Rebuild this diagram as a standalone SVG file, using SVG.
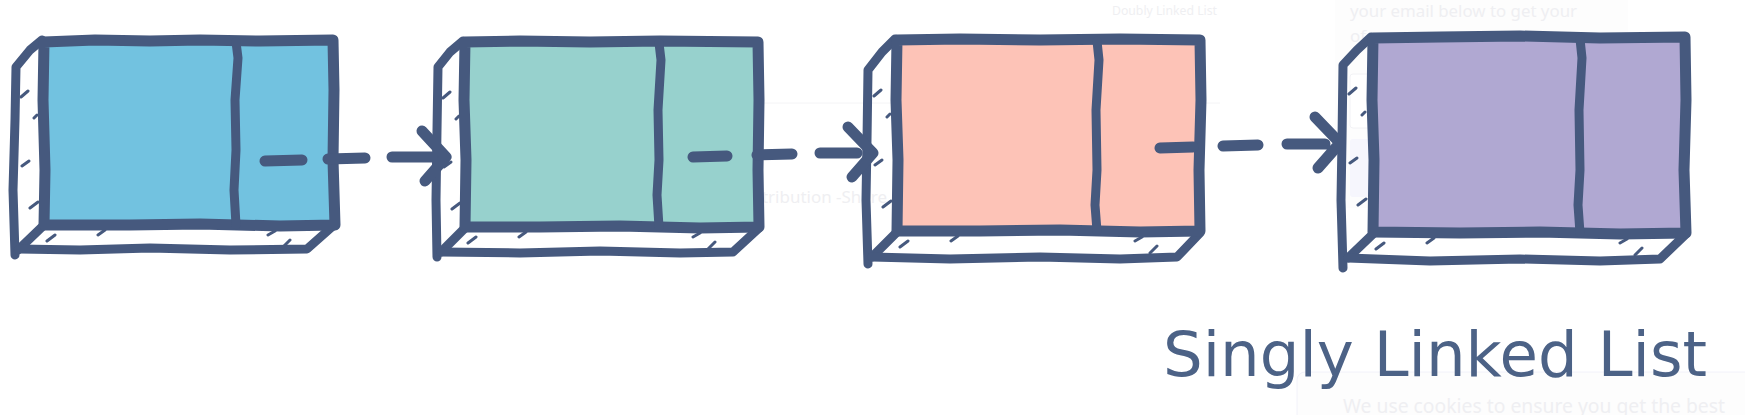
<svg xmlns="http://www.w3.org/2000/svg" width="1745" height="415" viewBox="0 0 1745 415">
<style>
.ol{fill:none;stroke:#46597E;stroke-linecap:round;stroke-linejoin:round}
.fr{stroke-width:11}
.dv{stroke-width:9}
.sd{stroke-width:9}
.ht{stroke-width:3}
.ar{fill:none;stroke:#46597E;stroke-width:11;stroke-linecap:round;stroke-linejoin:round}
.ghost{font-family:"Noto Sans","DejaVu Sans",sans-serif;fill:#EFEFF2}
.title{font-family:"DejaVu Sans","Noto Sans",sans-serif;font-size:63px;fill:#4C6286}
</style>
<rect width="1745" height="415" fill="#FFFFFF"/>
<g id="background-ghost">
<rect x="1335" y="-2" width="293" height="210" fill="#FDFDFD"/>
<rect x="1350" y="74" width="270" height="54" rx="3" fill="#FFFFFF" stroke="#F2F2F5" stroke-width="1"/>
<rect x="1350" y="139" width="270" height="58" rx="3" fill="#F6F6FD"/>
<line x1="763" y1="103" x2="1220" y2="103" stroke="#F4F4F6" stroke-width="1"/>
<rect x="1297" y="372" width="470" height="60" rx="8" fill="#FDFDFD" stroke="#F2F2FA" stroke-width="1"/>
<text class="ghost" x="1112" y="15" font-size="13" textLength="105" lengthAdjust="spacingAndGlyphs">Doubly Linked List</text>
<text class="ghost" x="1350" y="17" font-size="17" textLength="227" lengthAdjust="spacingAndGlyphs">your email below to get your</text>
<text class="ghost" x="1350" y="42" font-size="17">of</text>
<text class="ghost" x="762" y="203" font-size="16" textLength="125" lengthAdjust="spacingAndGlyphs">tribution -Share</text>
<text class="ghost" x="1343" y="413" font-size="20" textLength="382" lengthAdjust="spacingAndGlyphs">We use cookies to ensure you get the best</text>
</g>
<g id="node1">
<path d="M44,41 L333,40 L334,225 L44,226 Z" fill="#72C2E0"/>
<path class="ol sd" d="M42,40 L30,50 L16,67 L15,120 L13,190 L15,255"/>
<path class="ol sd" d="M44,225 L18,250"/>
<path class="ol sd" d="M19,249 L80,250 L150,248 L230,250 L307,249 L333,226"/>
<path class="ol ht" d="M21,97 L28,91 M34,118 L37,115 M22,166 L29,161 M30,208 L38,202 M47,241 L55,235 M98,235 L105,230 M268,235 L275,231 M283,247 L290,240"/>
<path class="ol fr" d="M44,42 L95,40 L150,41 L200,40 L260,41 L333,40 L334,90 L333,160 L335,225 L280,226 L200,224 L130,225 L44,225 L45,170 L43,100 Z"/>
<path class="ol dv" d="M236,42 L238,58 L235,100 L236,150 L234,190 L236,225"/>
</g>
<g id="node2">
<path d="M465,42 L758,42 L759,227 L465,228 Z" fill="#97D1CD"/>
<path class="ol sd" d="M463,41 L450,52 L438,67 L437,130 L436,200 L437,257"/>
<path class="ol sd" d="M465,228 L441,252"/>
<path class="ol sd" d="M441,252 L520,253 L600,251 L680,253 L733,252 L758,229"/>
<path class="ol ht" d="M443,98 L450,92 M456,119 L459,116 M444,167 L451,162 M452,209 L460,203 M468,243 L476,237 M519,237 L526,232 M693,237 L700,233 M708,249 L715,242"/>
<path class="ol fr" d="M465,42 L520,41 L590,42 L660,41 L758,42 L759,100 L758,170 L759,227 L700,228 L620,226 L540,227 L465,227 L466,160 L464,100 Z"/>
<path class="ol dv" d="M659,43 L661,60 L658,110 L659,160 L657,195 L659,227"/>
</g>
<g id="node3">
<path d="M897,40 L1200,40 L1201,231 L897,231 Z" fill="#FDC3B7"/>
<path class="ol sd" d="M895,39 L882,52 L868,70 L867,140 L866,200 L868,264"/>
<path class="ol sd" d="M897,232 L872,257"/>
<path class="ol sd" d="M872,257 L950,259 L1040,257 L1120,259 L1177,257 L1200,233"/>
<path class="ol ht" d="M874,96 L881,90 M887,117 L890,114 M875,165 L882,160 M883,207 L891,201 M900,247 L908,241 M951,241 L958,236 M1135,241 L1142,237 M1150,253 L1157,246"/>
<path class="ol fr" d="M897,40 L960,39 L1040,40 L1120,39 L1200,40 L1201,100 L1199,170 L1200,231 L1140,232 L1060,230 L980,231 L897,231 L898,160 L896,100 Z"/>
<path class="ol dv" d="M1097,41 L1099,60 L1096,110 L1097,170 L1095,205 L1097,231"/>
</g>
<g id="node4">
<path d="M1373,38 L1685,38 L1686,233 L1373,233 Z" fill="#B0A8D2"/>
<path class="ol sd" d="M1371,37 L1357,50 L1343,65 L1342,140 L1341,200 L1343,268"/>
<path class="ol sd" d="M1373,234 L1348,258"/>
<path class="ol sd" d="M1348,258 L1430,261 L1520,259 L1600,261 L1660,259 L1685,235"/>
<path class="ol ht" d="M1349,94 L1356,88 M1362,115 L1365,112 M1350,163 L1357,158 M1358,205 L1366,199 M1376,249 L1384,243 M1427,243 L1434,238 M1620,243 L1627,239 M1635,255 L1642,248"/>
<path class="ol fr" d="M1373,38 L1440,37 L1520,36 L1600,38 L1685,37 L1686,100 L1684,170 L1686,233 L1620,234 L1540,232 L1460,233 L1373,232 L1374,160 L1372,100 Z"/>
<path class="ol dv" d="M1580,39 L1582,58 L1579,110 L1580,170 L1578,205 L1580,233"/>
</g>
<g id="connectors">
<path class="ar" d="M265,161 L302,160 M328,159 L365,158 M392,157 L432,157 M422,131 L446,157 L425,181"/>
<path class="ar" d="M693,157 L727,156 M757,155 L792,154 M820,153 L857,153 M848,127 L873,153 L852,177"/>
<path class="ar" d="M1160,148 L1193,147 M1223,146 L1258,145 M1287,144 L1325,144 M1315,117 L1340,143 L1318,168"/>
</g>
<g id="title">
<text class="title" x="1163" y="376" textLength="544" lengthAdjust="spacingAndGlyphs">Singly Linked List</text>
</g>
</svg>
